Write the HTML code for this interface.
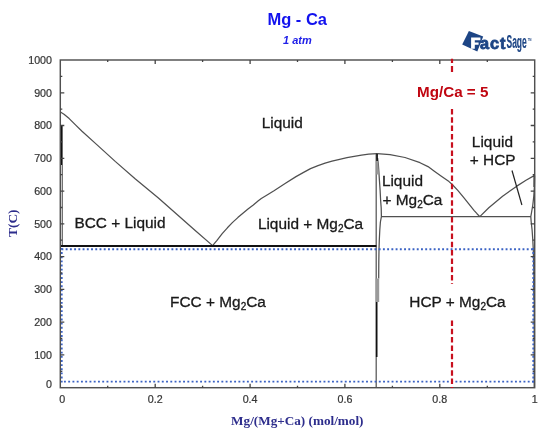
<!DOCTYPE html>
<html><head><meta charset="utf-8"><style>
html,body{margin:0;padding:0;background:#fff;width:550px;height:435px;overflow:hidden}
svg{display:block;filter:blur(0.3px)}
</style></head><body>
<svg width="550" height="435" viewBox="0 0 550 435">
<rect width="550" height="435" fill="#fff"/>
<g font-family="Liberation Sans, sans-serif">
<text x="297.2" y="25" text-anchor="middle" font-size="16.5" font-weight="bold" fill="#1212ee">Mg - Ca</text>
<text x="297.4" y="43.6" text-anchor="middle" font-size="11" font-weight="bold" font-style="italic" fill="#2020e8">1 atm</text>
</g>
<!-- logo -->
<g>
<path d="M468.9,31 L483.2,36.6 L477.3,51.6 L462.2,44.6 Z" fill="#1d4585"/>
<path d="M471.1,37.4 H480.4 V40.3 H474.8 V42.4 H478.6 V44.7 H474.8 V48.8 H470.6 L471.1,47.6 Z" fill="#fff"/>
<text x="480" y="48.6" font-family="Liberation Sans, sans-serif" font-weight="bold" font-size="16.3" fill="#1d4585" stroke="#1d4585" stroke-width="0.8" letter-spacing="1.0">act</text>
<text transform="translate(506.5,48.4) scale(0.465,1)" font-family="Liberation Sans, sans-serif" font-weight="bold" font-size="18.2" fill="#1d4585" stroke="#1d4585" stroke-width="0.2">Sage</text>
<text transform="translate(527.7,40.8) scale(0.62,1)" font-family="Liberation Sans, sans-serif" font-weight="bold" font-size="4.2" fill="#1d4585">TM</text>
</g>
<!-- phase lines -->
<g fill="none" stroke="#505050" stroke-width="1.25" stroke-linejoin="round">
<polyline points="60.8,112.3 64.0,114.2 69.2,118.6 76.0,125.4 82.0,131.3 96.8,144.6 115.2,161.4 135.4,179.0 158.4,198.0 176.8,214.3 195.2,230.5 212.6,245.6"/>
<polyline points="212.6,245.6 217.0,240.3 222.2,233.6 227.4,227.8 232.6,222.4 237.8,217.6 242.9,213.3 248.0,209.0 253.3,205.0 258.0,201.0 261.3,198.5 267.5,194.7 274.0,190.8 285.5,183.3 296.0,176.6 303.6,172.4 310.5,168.6 318.0,165.6 325.1,163.2 332.0,161.2 339.6,159.3 347.0,157.7 354.2,156.3 361.5,155.1 368.7,154.1 377.1,153.6"/>
<polyline points="377.1,153.6 390.0,154.7 405.0,157.5 420.0,162.7 428.0,166.6 434.0,171.0 441.0,175.9 449.0,181.6 452.0,184.2 458.0,190.6 464.0,197.9 469.0,204.2 474.0,210.3 477.0,213.7 479.8,216.6"/>
<polyline points="479.8,216.6 488.8,207.8 502.6,196.2 516.4,186.4 526.0,180.2 534.6,175.4"/>
<polyline points="377.6,158.0 378.4,165.0 378.9,172.0 379.4,180.0 380.1,190.0 380.6,200.0 381.2,208.0 381.4,216.6 380.4,222.0 379.8,230.0 379.3,240.0 379.0,250.0 378.8,262.0 378.7,278.5"/>
<polyline points="534.6,175.4 534.4,187.0 533.8,196.0 532.8,205.0 531.7,211.5 530.8,216.6 531.2,222.0 532.1,230.0 532.8,240.0 533.3,250.0 533.8,270.0 534.2,300.0 534.2,388.0"/>
<path d="M381.4,216.6 H530.8" stroke-width="1.4" stroke="#505050"/>
<path d="M376.2,154 V388" stroke="#555"/>
<path d="M376.2,159 L377.6,158 L378.4,165 L378.9,174.5 L376.2,174.5 Z" fill="#999" stroke="none"/>
<path d="M375.7,278.5 H379.2 V302 H375.7 Z" fill="#9a9a9a" stroke="none"/>
<path d="M62.3,125 V246" stroke="#666"/>
</g>
<g fill="none" stroke="#111" stroke-width="1.6">
<path d="M60.8,246 H376.4" stroke-width="2"/>
<path d="M377.1,153.8 V161"/>
<path d="M376.7,302 V357"/>
<path d="M61.3,125.5 V165" stroke-width="1.5"/>
<path d="M512,170.5 L521.9,205" stroke-width="1.2" stroke="#222"/>
<path d="M534.2,175.4 V187" stroke-width="1.3"/>
<path d="M534.2,277 V300" stroke-width="1.2"/>
</g>
<!-- dotted blue rect -->
<g stroke="#3a62c4" stroke-width="1.9" fill="none">
<path d="M61.45,249.2 H534" stroke-dasharray="1.9 2.33"/>
<path d="M63.95,381.6 H534" stroke-dasharray="1.9 2.355"/>
<path d="M61.7,247.95 V382.6" stroke-dasharray="1.9 2.25"/>
<path d="M533.3,247.95 V382.6" stroke-dasharray="1.9 2.25"/>
</g>
<!-- frame -->
<rect x="60.3" y="60" width="474.4" height="327.7" fill="none" stroke="#505050" stroke-width="1.45"/>
<path d="M107.7,387.7v-2M107.7,60.0v2M155.2,387.7v-4M155.2,60.0v4M202.6,387.7v-2M202.6,60.0v2M250.1,387.7v-4M250.1,60.0v4M297.5,387.7v-2M297.5,60.0v2M344.9,387.7v-4M344.9,60.0v4M392.4,387.7v-2M392.4,60.0v2M439.8,387.7v-4M439.8,60.0v4M487.3,387.7v-2M487.3,60.0v2M60.3,371.3h2M534.7,371.3h-2M60.3,354.9h4M534.7,354.9h-4M60.3,338.5h2M534.7,338.5h-2M60.3,322.2h4M534.7,322.2h-4M60.3,305.8h2M534.7,305.8h-2M60.3,289.4h4M534.7,289.4h-4M60.3,273.0h2M534.7,273.0h-2M60.3,256.6h4M534.7,256.6h-4M60.3,240.2h2M534.7,240.2h-2M60.3,223.8h4M534.7,223.8h-4M60.3,207.5h2M534.7,207.5h-2M60.3,191.1h4M534.7,191.1h-4M60.3,174.7h2M534.7,174.7h-2M60.3,158.3h4M534.7,158.3h-4M60.3,141.9h2M534.7,141.9h-2M60.3,125.5h4M534.7,125.5h-4M60.3,109.2h2M534.7,109.2h-2M60.3,92.8h4M534.7,92.8h-4M60.3,76.4h2M534.7,76.4h-2" stroke="#444" stroke-width="1.3" fill="none"/>
<!-- red dashed -->
<path d="M452,58.7 V63 M452,65.9 V72" stroke="#c8101e" stroke-width="2.2" fill="none"/>
<path d="M452,109 V284 M452,320.5 V388" stroke="#c8101e" stroke-width="2.2" stroke-dasharray="5.5 2.8" fill="none"/>
<g font-family="Liberation Sans, sans-serif" font-size="10.7" fill="#363636" stroke="#363636" stroke-width="0.22">
<text x="52" y="388.2" text-anchor="end">0</text><text x="52" y="358.6" text-anchor="end">100</text><text x="52" y="325.9" text-anchor="end">200</text><text x="52" y="293.1" text-anchor="end">300</text><text x="52" y="260.3" text-anchor="end">400</text><text x="52" y="227.5" text-anchor="end">500</text><text x="52" y="194.8" text-anchor="end">600</text><text x="52" y="162.0" text-anchor="end">700</text><text x="52" y="129.2" text-anchor="end">800</text><text x="52" y="96.5" text-anchor="end">900</text><text x="52" y="63.7" text-anchor="end">1000</text>
<text x="62.3" y="403.4" text-anchor="middle">0</text><text x="155.2" y="403.4" text-anchor="middle">0.2</text><text x="250.1" y="403.4" text-anchor="middle">0.4</text><text x="344.9" y="403.4" text-anchor="middle">0.6</text><text x="439.8" y="403.4" text-anchor="middle">0.8</text><text x="534.7" y="403.4" text-anchor="middle">1</text>
</g>
<g font-family="Liberation Serif, serif" font-weight="bold" fill="#2d2d8c">
<text x="297.3" y="425" text-anchor="middle" font-size="13.2">Mg/(Mg+Ca) (mol/mol)</text>
<text transform="translate(17.0,223.2) rotate(-90)" text-anchor="middle" font-size="13.4">T(C)</text>
</g>
<g font-family="Liberation Sans, sans-serif" font-size="15.4" fill="#1a1a1a" stroke="#1a1a1a" stroke-width="0.3">
<text x="282.2" y="128.3" text-anchor="middle">Liquid</text>
<text x="120" y="228.4" text-anchor="middle">BCC + Liquid</text>
<text x="310.5" y="228.6" text-anchor="middle">Liquid + Mg<tspan font-size="10" dy="3">2</tspan><tspan dy="-3">Ca</tspan></text>
<text x="218" y="306.9" text-anchor="middle">FCC + Mg<tspan font-size="10" dy="3">2</tspan><tspan dy="-3">Ca</tspan></text>
<text x="457.5" y="306.9" text-anchor="middle">HCP + Mg<tspan font-size="10" dy="3">2</tspan><tspan dy="-3">Ca</tspan></text>
<text x="381.9" y="186.3">Liquid</text>
<text x="382.5" y="204.8">+ Mg<tspan font-size="10" dy="3">2</tspan><tspan dy="-3">Ca</tspan></text>
<text x="492.4" y="146.9" text-anchor="middle">Liquid</text>
<text x="492.7" y="164.8" text-anchor="middle">+ HCP</text>
</g>
<text x="452.7" y="97.1" text-anchor="middle" font-family="Liberation Sans, sans-serif" font-size="15.2" font-weight="bold" fill="#c00510">Mg/Ca = 5</text>
</svg>
</body></html>
